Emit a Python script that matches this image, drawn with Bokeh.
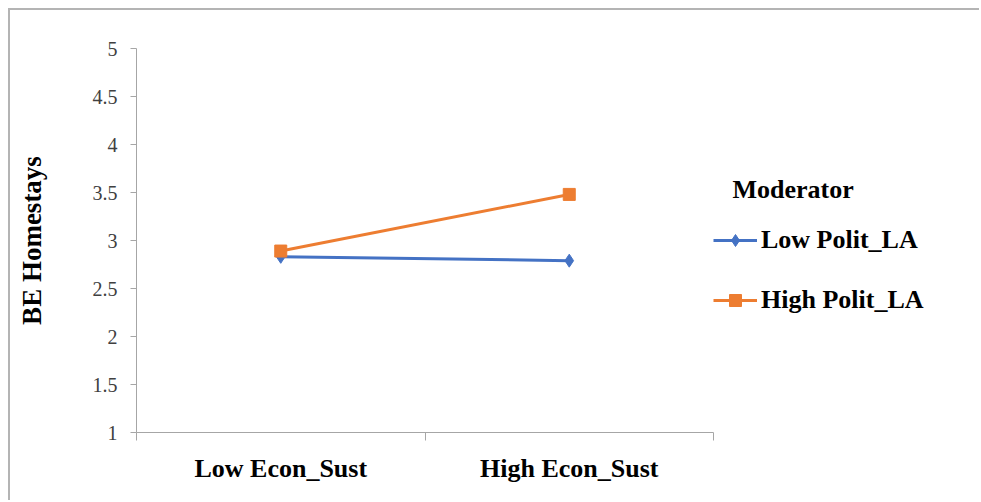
from bokeh.plotting import figure
from bokeh.models import FixedTicker, Legend, LegendItem, Range1d
from bokeh.embed import file_html
from bokeh.resources import INLINE

# Simple-slope data: BE Homestays by Econ_Sust level, split by moderator
categories = ["Low Econ_Sust", "High Econ_Sust"]
low_polit = [2.83, 2.79]
high_polit = [2.89, 3.48]
series_names = ["Low Polit_LA", "High Polit_LA"]
legend_title = "Moderator"
y_ticks = [1, 1.5, 2, 2.5, 3, 3.5, 4, 4.5, 5]
y_tick_labels = ["1", "1.5", "2", "2.5", "3", "3.5", "4", "4.5", "5"]

SERIF = "Liberation Serif"
AXIS_GREY = "#a6a6a6"
BLUE = "#4472C4"
ORANGE = "#ED7D31"

# layout: the frame runs to the right edge so the legend can sit inside it;
# the category axis itself only covers the first AXIS_W pixels
FIG_W, FIG_H = 971, 492
LEFT, TOP, BOTTOM = 126, 38, 70
FRAME_W = FIG_W - LEFT
AXIS_W = 577
n = len(categories)

# category i sits in the middle of slot [i, i+1]
x_pos = [i + 0.5 for i in range(n)]

p = figure(
    width=FIG_W, height=FIG_H,
    x_range=Range1d(0, n * FRAME_W / AXIS_W), y_range=Range1d(1, 5),
    output_backend="svg", toolbar_location=None,
    min_border_left=LEFT, min_border_right=0,
    min_border_top=TOP, min_border_bottom=BOTTOM,
    margin=(8, 0, 0, 8),
    styles={"border-top": "2px solid #b4b4b4", "border-left": "2px solid #b4b4b4"},
)
p.outline_line_color = None
p.xgrid.visible = False
p.ygrid.visible = False
p.background_fill_color = "white"
p.border_fill_color = "white"

# y axis
p.yaxis.ticker = FixedTicker(ticks=y_ticks)
p.yaxis.major_label_overrides = {t: s for t, s in zip(y_ticks, y_tick_labels)}
p.yaxis.axis_line_color = AXIS_GREY
p.yaxis.major_tick_line_color = AXIS_GREY
p.yaxis.major_tick_out = 6
p.yaxis.major_tick_in = 0
p.yaxis.minor_tick_line_color = None
p.yaxis.major_label_text_font = SERIF
p.yaxis.major_label_text_font_size = "20px"
p.yaxis.major_label_text_color = "#404040"
p.yaxis.major_label_standoff = 13
p.yaxis.axis_label = "BE Homestays"
p.yaxis.axis_label_text_font = SERIF
p.yaxis.axis_label_text_font_style = "bold"
p.yaxis.axis_label_text_font_size = "27px"
p.yaxis.axis_label_text_color = "black"
p.yaxis.axis_label_standoff = 43

# x axis: labels at slot centres, tick marks at slot boundaries
p.xaxis.bounds = (0, n)
p.xaxis.ticker = FixedTicker(ticks=x_pos, minor_ticks=list(range(n + 1)))
p.xaxis.major_label_overrides = {x: c for x, c in zip(x_pos, categories)}
p.xaxis.axis_line_color = AXIS_GREY
p.xaxis.major_tick_line_color = None
p.xaxis.major_tick_out = 0
p.xaxis.major_tick_in = 0
p.xaxis.minor_tick_line_color = AXIS_GREY
p.xaxis.minor_tick_out = 8
p.xaxis.minor_tick_in = 0
p.xaxis.major_label_text_font = SERIF
p.xaxis.major_label_text_font_style = "bold"
p.xaxis.major_label_text_font_size = "26px"
p.xaxis.major_label_text_color = "black"
p.xaxis.major_label_standoff = 13

# series
l1 = p.line(x_pos, low_polit, line_color=BLUE, line_width=3)
m1 = p.scatter(x_pos, low_polit, marker="diamond", size=13, fill_color=BLUE, line_color=BLUE)
l2 = p.line(x_pos, high_polit, line_color=ORANGE, line_width=3)
m2 = p.scatter(x_pos, high_polit, marker="square", size=12, fill_color=ORANGE, line_color=ORANGE)

# legend just right of the category axis (px offsets from frame bottom-left)
legend = Legend(
    items=[LegendItem(label=series_names[0], renderers=[l1, m1]),
           LegendItem(label=series_names[1], renderers=[l2, m2])],
    title="\u00a0\u00a0\u00a0" + legend_title,
    location=(AXIS_W, 117),
    margin=0, padding=0,
    glyph_width=44, glyph_height=30, label_height=30,
    spacing=30, label_standoff=4, title_standoff=20,
    border_line_color=None, background_fill_alpha=0,
    label_text_font=SERIF, label_text_font_style="bold",
    label_text_font_size="26px", label_text_color="black",
    title_text_font=SERIF, title_text_font_style="bold",
    title_text_font_size="26px", title_text_color="black",
)
p.add_layout(legend)

open("out.html", "w").write(file_html(p, INLINE))
